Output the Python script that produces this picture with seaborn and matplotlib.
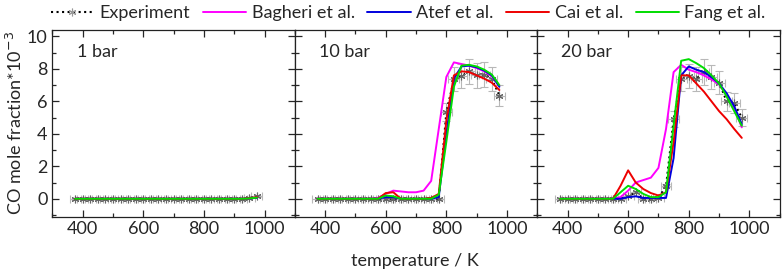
import numpy as np
import pandas as pd
import seaborn as sns
import matplotlib
matplotlib.use("Agg")
import matplotlib.pyplot as plt
from matplotlib.ticker import MultipleLocator
from matplotlib.lines import Line2D

T = [375, 400, 425, 450, 475, 500, 525, 550, 575, 600, 625, 650, 675,
     700, 725, 750, 775, 800, 825, 850, 875, 900, 925, 950, 975]

pressures = ["1 bar", "10 bar", "20 bar"]
models = ["Bagheri et al.", "Atef et al.", "Cai et al.", "Fang et al."]
colors = {"Bagheri et al.": "#ff00ff", "Atef et al.": "#0000dd",
          "Cai et al.": "#ee0000", "Fang et al.": "#00dd00"}

# experiment, CO mole fraction * 1e-3
exp_1 = [0, 0, 0, 0, 0, 0, 0, 0, 0, 0, 0, 0, 0,
         0, 0, 0, 0, 0, 0, 0, 0, 0, 0, 0.05, 0.15]
exp_10 = [0, 0, 0, 0, 0, 0, 0, 0, 0, 0, 0, 0, 0,
          0, 0, 0, 0, 5.35, 7.35, 7.55, 7.85, 7.6, 7.65, 7.4, 6.35]
exp_20 = [0, 0, 0, 0, 0, 0, 0, 0, 0, 0.15, 0.4, 0, 0,
          0.05, 0.8, 4.9, 7.4, 7.55, 7.4, 7.8, 7.5, 7.15, 6.0, 5.9, 5.0]

bagheri_1 = [0, 0, 0, 0, 0, 0, 0, 0, 0, 0, 0, 0, 0,
             0, 0, 0, 0, 0, 0, 0, 0, 0, 0, 0.02, 0.08]
atef_1 = [0, 0, 0, 0, 0, 0, 0, 0, 0, 0, 0, 0, 0,
          0, 0, 0, 0, 0, 0, 0, 0, 0, 0, 0.02, 0.06]
cai_1 = [0, 0, 0, 0, 0, 0, 0, 0, 0, 0, 0, 0, 0,
         0, 0, 0, 0, 0, 0, 0, 0, 0, 0, 0.03, 0.1]
fang_1 = [0, 0, 0, 0, 0, 0, 0, 0, 0, 0, 0, 0, 0,
          0, 0, 0, 0, 0, 0, 0, 0, 0, 0, 0.02, 0.07]

bagheri_10 = [0, 0, 0, 0, 0, 0, 0, 0, 0.05, 0.3, 0.5, 0.45, 0.4,
              0.4, 0.5, 1.1, 4.3, 7.5, 8.4, 8.3, 8.2, 8.05, 7.85, 7.55, 6.95]
atef_10 = [0, 0, 0, 0, 0, 0, 0, 0, 0, 0.1, 0.1, 0, 0,
           0, 0, 0, 0.1, 4.0, 7.4, 8.15, 8.2, 8.1, 7.9, 7.6, 6.9]
cai_10 = [0, 0, 0, 0, 0, 0, 0, 0, 0, 0.35, 0.4, 0, 0,
          0, 0, 0.05, 0.3, 4.8, 7.6, 7.85, 7.8, 7.6, 7.4, 7.15, 6.7]
fang_10 = [0, 0, 0, 0, 0, 0, 0, 0, 0, 0.2, 0.15, 0, 0,
           0, 0, 0, 0.25, 3.5, 6.9, 8.2, 8.25, 8.15, 7.95, 7.65, 7.0]

bagheri_20 = [0, 0, 0, 0, 0, 0, 0, 0, 0.1, 0.5, 1.0, 1.15, 1.3,
              1.9, 4.3, 7.8, 8.25, 7.95, 7.8, 7.6, 7.35, 7.05, 6.4, 5.6, 4.4]
atef_20 = [0, 0, 0, 0, 0, 0, 0, 0, 0, 0.1, 0.15, 0.05, 0.05,
           0.05, 0.05, 2.5, 7.6, 8.15, 7.95, 7.8, 7.5, 7.1, 6.5, 5.7, 4.6]
cai_20 = [0, 0, 0, 0, 0, 0, 0, 0, 0.8, 1.75, 1.0, 0.6, 0.35,
          0.2, 0.4, 3.5, 7.6, 7.6, 7.1, 6.6, 6.0, 5.4, 4.9, 4.3, 3.75]
fang_20 = [0, 0, 0, 0, 0, 0, 0, 0, 0.4, 0.8, 0.6, 0.3, 0.1,
           0.1, 0.4, 4.5, 8.5, 8.6, 8.35, 8.05, 7.6, 7.1, 6.3, 5.4, 4.5]

exp_data = {"1 bar": exp_1, "10 bar": exp_10, "20 bar": exp_20}
model_data = {
    "1 bar": [bagheri_1, atef_1, cai_1, fang_1],
    "10 bar": [bagheri_10, atef_10, cai_10, fang_10],
    "20 bar": [bagheri_20, atef_20, cai_20, fang_20],
}

rows = []
for p in pressures:
    for m, vals in zip(models, model_data[p]):
        for t, v in zip(T, vals):
            rows.append({"pressure": p, "model": m, "T": t, "CO": v})
df = pd.DataFrame(rows)

sns.set_theme(style="ticks")
plt.rcParams["font.family"] = ["Lato", "DejaVu Sans"]
fs = 13

fig, axes = plt.subplots(1, 3, figsize=(7.82, 2.77), dpi=100, sharey=True)
fig.subplots_adjust(left=0.067, right=0.997, top=0.892, bottom=0.218, wspace=0)

for ax, p in zip(axes, pressures):
    y = np.array(exp_data[p])
    ax.errorbar(T, y, yerr=0.1 * y, xerr=18, fmt="none", ecolor="#b8b8b8",
                elinewidth=0.8, capsize=3, capthick=0.8, zorder=1)
    ax.plot(T, y, linestyle=":", color="black", linewidth=1.4, marker=(6, 2, 0),
            markersize=5.5, markeredgecolor="#666666", markeredgewidth=0.8, zorder=2)
    sns.lineplot(data=df[df["pressure"] == p], x="T", y="CO", hue="model",
                 palette=colors, hue_order=models, linewidth=1.4, ax=ax,
                 legend=False, zorder=3)
    ax.set_xlim(300, 1100)
    ax.set_ylim(-1.1, 10.4)
    ax.xaxis.set_major_locator(MultipleLocator(200))
    ax.xaxis.set_minor_locator(MultipleLocator(100))
    ax.yaxis.set_major_locator(MultipleLocator(2))
    ax.yaxis.set_minor_locator(MultipleLocator(1))
    ax.tick_params(which="both", direction="in", top=True, right=True,
                   labelsize=fs, width=0.9)
    ax.tick_params(which="major", length=5)
    ax.tick_params(which="minor", length=3)
    for s in ax.spines.values():
        s.set_linewidth(0.9)
        s.set_color("#222222")
    ax.set_xlabel("")
    ax.set_ylabel("")
    ax.text(0.1, 0.88, p, transform=ax.transAxes, fontsize=fs, va="center")

axes[0].set_ylabel("CO mole fraction*10$^{-3}$", fontsize=fs, labelpad=1)
fig.text(0.53, 0.04, "temperature / K", ha="center", fontsize=fs)

handles = [Line2D([], [], linestyle=":", color="black", marker=(6, 2, 0),
                  markersize=5.5, markeredgecolor="#999999", markeredgewidth=0.8)]
handles += [Line2D([], [], color=colors[m], linewidth=1.4) for m in models]
fig.legend(handles, ["Experiment"] + models, ncol=5, loc="upper right",
           bbox_to_anchor=(1.0, 1.04), frameon=False, fontsize=fs,
           handlelength=2.4, handletextpad=0.3, columnspacing=0.7)

fig.savefig("out.png", dpi=100)
